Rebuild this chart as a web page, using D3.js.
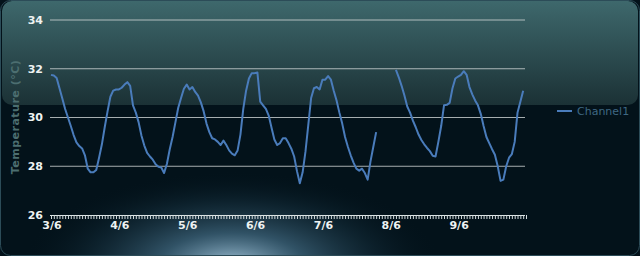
<!DOCTYPE html>
<html>
<head>
<meta charset="utf-8">
<script src="https://cdn.jsdelivr.net/npm/d3@7"></script>
<style>
    html, body { margin: 0; padding: 0; background: #03121a; }
    svg { display: block; }
</style>
</head>
<body>
<svg id="chart" width="640" height="256"></svg>
<script>
const seriesName = 'Channel1';
const dayLabels = ['3/6', '4/6', '5/6', '6/6', '7/6', '8/6', '9/6'];
const yTicks = [26, 28, 30, 32, 34];

// hourly readings, starting 3/6 00:00
const channel1 = [
    // 3/6
    31.75, 31.72, 31.62, 31.2, 30.78, 30.35, 30.0, 29.65, 29.28, 28.98, 28.83, 28.73,
    28.45, 27.9, 27.75, 27.75, 27.85, 28.35, 28.9, 29.6, 30.25, 30.85, 31.1, 31.15,
    // 4/6
    31.15, 31.22, 31.35, 31.45, 31.3, 30.5, 30.2, 29.8, 29.25, 28.85, 28.55, 28.4,
    28.27, 28.08, 27.98, 27.95, 27.72, 28.1, 28.7, 29.2, 29.8, 30.4, 30.8, 31.18,
    // 5/6
    31.35, 31.15, 31.25, 31.05, 30.9, 30.62, 30.25, 29.75, 29.4, 29.15, 29.1, 29.0,
    28.87, 29.05, 28.87, 28.65, 28.52, 28.45, 28.65, 29.3, 30.35, 31.1, 31.6, 31.82,
    // 6/6
    31.82, 31.85, 30.65, 30.5, 30.35, 30.08, 29.58, 29.1, 28.87, 28.95, 29.15, 29.15,
    28.95, 28.72, 28.4, 27.8, 27.3, 27.75, 28.6, 29.7, 30.8, 31.2, 31.25, 31.15,
    // 7/6
    31.55, 31.55, 31.7, 31.55, 31.1, 30.7, 30.2, 29.75, 29.2, 28.8, 28.45, 28.15,
    27.9, 27.82, 27.9, 27.72, 27.45, 28.2, 28.8, 29.4, null, null, null, null,
    // 8/6
    null, null, 31.95, 31.65, 31.3, 30.9, 30.45, 30.2, 29.87, 29.6, 29.3, 29.08,
    28.9, 28.75, 28.62, 28.43, 28.4, 29.0, 29.65, 30.5, 30.52, 30.6, 31.2, 31.6,
    // 9/6
    31.68, 31.75, 31.9, 31.75, 31.25, 30.95, 30.7, 30.5, 30.15, 29.65, 29.2, 28.95,
    28.7, 28.47, 28.0, 27.4, 27.45, 28.0, 28.35, 28.5, 29.0, 30.2, 30.65, 31.1
];

const startTime = new Date(2013, 5, 3);
const endTime = new Date(2013, 5, 10);

const svg = d3.select('#chart');
const defs = svg.append('defs');

// background pieces
let panelGrad = defs.append('linearGradient')
    .attr('id', 'panel')
    .attr('x1', 0).attr('y1', 0).attr('x2', 0).attr('y2', 1);
panelGrad.append('stop').attr('offset', '0%').attr('stop-color', '#3e686c');
panelGrad.append('stop').attr('offset', '100%').attr('stop-color', '#1b3135');

let glow = defs.append('radialGradient').attr('id', 'glow');
glow.append('stop').attr('offset', '0%').attr('stop-color', '#a8c8dc').attr('stop-opacity', 1);
glow.append('stop').attr('offset', '35%').attr('stop-color', '#4f7d98').attr('stop-opacity', 0.6);
glow.append('stop').attr('offset', '70%').attr('stop-color', '#1c3a4a').attr('stop-opacity', 0.35);
glow.append('stop').attr('offset', '100%').attr('stop-color', '#03121a').attr('stop-opacity', 0);

svg.append('rect')
    .attr('width', 640).attr('height', 256)
    .attr('fill', '#03121a');

svg.append('ellipse')
    .attr('cx', 232).attr('cy', 266)
    .attr('rx', 210).attr('ry', 95)
    .attr('fill', 'url(#glow)');

svg.append('rect')
    .attr('x', 2).attr('y', 1)
    .attr('width', 636).attr('height', 104)
    .attr('rx', 10)
    .attr('fill', 'url(#panel)');

svg.append('rect')
    .attr('x', 0.5).attr('y', 0.5)
    .attr('width', 639).attr('height', 255)
    .attr('rx', 10)
    .attr('fill', 'none')
    .attr('stroke', '#2c4c58');

// scales
const x = d3.scaleTime().domain([startTime, endTime]).range([51, 526]);
const y = d3.scaleLinear().domain([26, 34]).range([215, 20]);

const data = channel1.map((v, i) => ({ t: d3.timeHour.offset(startTime, i), v: v }));

// grid lines
svg.append('g')
    .selectAll('line')
    .data(yTicks.filter(d => d > 26))
    .join('line')
    .attr('x1', 50).attr('x2', 525)
    .attr('y1', d => y(d)).attr('y2', d => y(d))
    .attr('stroke', '#cfd6d6')
    .attr('stroke-opacity', 0.8)
    .attr('stroke-width', 1);

// y labels
svg.append('g')
    .selectAll('text')
    .data(yTicks)
    .join('text')
    .attr('x', 43)
    .attr('y', d => y(d))
    .attr('dy', '0.35em')
    .attr('text-anchor', 'end')
    .attr('font-family', 'DejaVu Sans, Verdana, sans-serif')
    .attr('font-size', 11)
    .attr('font-weight', 'bold')
    .attr('fill', '#eef2f2')
    .text(d => d);

// x axis with hourly ticks
let xAxis = d3.axisBottom(x)
    .ticks(d3.timeHour.every(1))
    .tickSize(4)
    .tickFormat('');

let axisG = svg.append('g')
    .attr('transform', `translate(0,${y(26)})`)
    .call(xAxis);
axisG.select('.domain')
    .attr('d', 'M50,0.5H525')
    .attr('stroke', '#dfe6e6');
axisG.selectAll('.tick line').attr('stroke', '#d4dcde');

svg.append('g')
    .selectAll('text')
    .data(dayLabels)
    .join('text')
    .attr('x', (d, i) => x(d3.timeDay.offset(startTime, i)) + 1)
    .attr('y', 229)
    .attr('text-anchor', 'middle')
    .attr('font-family', 'DejaVu Sans, Verdana, sans-serif')
    .attr('font-size', 11)
    .attr('font-weight', 'bold')
    .attr('fill', '#eef2f2')
    .text(d => d);

// y title
svg.append('text')
    .attr('transform', 'translate(19,117) rotate(-90)')
    .attr('text-anchor', 'middle')
    .attr('font-family', 'DejaVu Sans, Verdana, sans-serif')
    .attr('font-size', 11)
    .attr('font-weight', 'bold')
    .attr('letter-spacing', 0.5)
    .attr('fill', '#4c6e70')
    .text('Temperature (°C)');

// series line
let lineFunc = d3.line()
    .defined(d => d.v != null)
    .x(d => x(d.t))
    .y(d => y(d.v));

svg.append('path')
    .datum(data)
    .attr('d', lineFunc)
    .attr('fill', 'none')
    .attr('stroke', '#4a7cbb')
    .attr('stroke-width', 2)
    .attr('stroke-linejoin', 'round');

// legend
let legend = svg.append('g').attr('transform', 'translate(557,111)');
legend.append('line')
    .attr('x1', 0).attr('x2', 15)
    .attr('stroke', '#4a7cbb')
    .attr('stroke-width', 2);
legend.append('text')
    .attr('x', 20)
    .attr('dy', '0.35em')
    .attr('font-family', 'DejaVu Sans, Verdana, sans-serif')
    .attr('font-size', 11)
    .attr('fill', '#3f6883')
    .text(seriesName);
</script>
</body>
</html>
